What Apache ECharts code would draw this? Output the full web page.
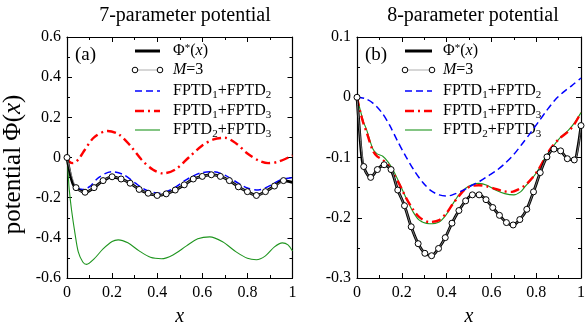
<!DOCTYPE html>
<html>
<head>
<meta charset="utf-8">
<script src="https://cdn.jsdelivr.net/npm/echarts@6/dist/echarts.min.js"></script>
<style>html,body{margin:0;padding:0;background:#fff}#c{width:588px;height:332px}</style>
</head>
<body>
<div id="c"></div>
<script>
// ---------- Data: panel (a) 7-parameter potential ----------
var aPhiX = [0,0.01,0.02,0.03,0.04,0.08,0.12,0.16,0.20,0.24,0.28,0.32,0.36,0.40,0.44,0.48,0.52,0.56,0.60,0.64,0.68,0.72,0.76,0.80,0.84,0.88,0.92,0.96,1.0];
var aPhiY = [0,-0.06,-0.11,-0.14,-0.152,-0.174,-0.150,-0.115,-0.097,-0.107,-0.128,-0.159,-0.178,-0.189,-0.181,-0.162,-0.136,-0.107,-0.094,-0.087,-0.094,-0.115,-0.146,-0.170,-0.189,-0.170,-0.142,-0.115,-0.124];
var aM3X = [0,0.04,0.08,0.12,0.16,0.20,0.24,0.28,0.32,0.36,0.40,0.44,0.48,0.52,0.56,0.60,0.64,0.68,0.72,0.76,0.80,0.84,0.88,0.92,0.96];
var aM3Y = [0,-0.150,-0.173,-0.150,-0.115,-0.096,-0.107,-0.128,-0.159,-0.178,-0.189,-0.181,-0.162,-0.136,-0.107,-0.094,-0.086,-0.094,-0.115,-0.146,-0.170,-0.189,-0.170,-0.142,-0.115];
var a12X = [0,0.01,0.02,0.04,0.07,0.10,0.14,0.197,0.25,0.30,0.35,0.41,0.47,0.53,0.59,0.648,0.70,0.76,0.80,0.848,0.90,0.95,1.0];
var a12Y = [0,-0.06,-0.11,-0.15,-0.159,-0.145,-0.100,-0.071,-0.085,-0.125,-0.162,-0.178,-0.155,-0.110,-0.078,-0.071,-0.088,-0.128,-0.152,-0.162,-0.140,-0.110,-0.100];
var a13X = [0,0.01,0.027,0.05,0.08,0.12,0.18,0.23,0.28,0.33,0.38,0.426,0.48,0.54,0.60,0.65,0.70,0.75,0.80,0.85,0.892,0.94,1.0];
var a13Y = [0,-0.02,-0.028,-0.01,0.04,0.10,0.132,0.115,0.06,-0.01,-0.06,-0.079,-0.06,0.0,0.06,0.09,0.098,0.07,0.02,-0.015,-0.028,-0.02,0.01];
var a23X = [0,0.005,0.01,0.02,0.035,0.05,0.07,0.087,0.12,0.16,0.20,0.227,0.27,0.32,0.37,0.419,0.47,0.53,0.58,0.633,0.69,0.75,0.80,0.84,0.88,0.92,0.955,0.98,1.0];
var a23Y = [0,-0.08,-0.16,-0.26,-0.375,-0.47,-0.52,-0.532,-0.505,-0.455,-0.418,-0.41,-0.425,-0.465,-0.497,-0.504,-0.485,-0.44,-0.405,-0.395,-0.42,-0.47,-0.502,-0.509,-0.49,-0.445,-0.425,-0.435,-0.466];

// ---------- Data: panel (b) 8-parameter potential ----------
var bM3X = [0,0.03,0.061,0.091,0.121,0.152,0.182,0.212,0.242,0.273,0.303,0.333,0.364,0.394,0.424,0.455,0.485,0.515,0.545,0.576,0.606,0.636,0.667,0.697,0.727,0.758,0.788,0.818,0.848,0.879,0.909,0.939,0.97,1.0];
var bM3Y = [0,-0.115,-0.133,-0.120,-0.112,-0.120,-0.154,-0.180,-0.215,-0.243,-0.259,-0.263,-0.251,-0.233,-0.209,-0.188,-0.172,-0.162,-0.162,-0.170,-0.183,-0.196,-0.208,-0.212,-0.203,-0.186,-0.157,-0.125,-0.099,-0.086,-0.089,-0.102,-0.104,-0.047];
var bPhiX = [0,0.01,0.02,0.03,0.061,0.091,0.121,0.152,0.182,0.212,0.242,0.273,0.303,0.333,0.364,0.394,0.424,0.455,0.485,0.515,0.545,0.576,0.606,0.636,0.667,0.697,0.727,0.758,0.788,0.818,0.848,0.879,0.909,0.939,0.97,0.985,1.0];
var bPhiY = [0,-0.05,-0.095,-0.116,-0.133,-0.120,-0.112,-0.121,-0.154,-0.180,-0.215,-0.243,-0.259,-0.263,-0.251,-0.233,-0.209,-0.188,-0.172,-0.162,-0.162,-0.170,-0.183,-0.196,-0.208,-0.212,-0.203,-0.186,-0.157,-0.125,-0.099,-0.086,-0.089,-0.102,-0.104,-0.085,-0.047];
var b12X = [0,0.035,0.071,0.11,0.145,0.18,0.219,0.256,0.293,0.33,0.367,0.40,0.426,0.47,0.514,0.55,0.588,0.625,0.663,0.70,0.736,0.773,0.81,0.847,0.884,0.92,0.958,1.0];
var b12Y = [0,-0.002,-0.0097,-0.025,-0.046,-0.072,-0.099,-0.122,-0.141,-0.155,-0.162,-0.164,-0.162,-0.155,-0.146,-0.139,-0.130,-0.121,-0.109,-0.095,-0.078,-0.060,-0.041,-0.022,-0.0045,0.008,0.019,0.032];
var b13X = [0,0.015,0.03,0.042,0.071,0.09,0.115,0.14,0.16,0.19,0.219,0.25,0.278,0.322,0.367,0.40,0.426,0.455,0.485,0.515,0.544,0.58,0.618,0.655,0.692,0.72,0.751,0.78,0.81,0.84,0.869,0.905,0.943,0.97,1.0];
var b13Y = [0,-0.025,-0.045,-0.057,-0.089,-0.098,-0.104,-0.113,-0.125,-0.145,-0.167,-0.186,-0.199,-0.207,-0.204,-0.192,-0.178,-0.164,-0.152,-0.147,-0.146,-0.148,-0.152,-0.156,-0.157,-0.153,-0.146,-0.135,-0.120,-0.100,-0.083,-0.068,-0.057,-0.045,-0.0255];
var b23X = [0,0.015,0.03,0.042,0.071,0.09,0.115,0.14,0.16,0.19,0.219,0.25,0.278,0.322,0.367,0.40,0.426,0.455,0.485,0.515,0.544,0.58,0.618,0.66,0.70,0.73,0.751,0.78,0.81,0.84,0.869,0.905,0.943,0.97,1.0];
var b23Y = [0,-0.022,-0.042,-0.053,-0.086,-0.094,-0.098,-0.108,-0.120,-0.143,-0.167,-0.190,-0.204,-0.210,-0.207,-0.194,-0.178,-0.162,-0.151,-0.145,-0.143,-0.146,-0.154,-0.160,-0.162,-0.157,-0.148,-0.136,-0.120,-0.100,-0.085,-0.068,-0.055,-0.043,-0.0255];

var titles = ['7-parameter potential', '8-parameter potential'];
var panelLabels = ['(a)', '(b)'];
var xTicks = {min: 0, max: 1, interval: 0.2};
var yTicksA = {min: -0.6, max: 0.6, interval: 0.2};
var yTicksB = {min: -0.3, max: 0.1, interval: 0.1};

function pairs(xs, ys) { return xs.map(function (x, i) { return [x, ys[i]]; }); }

var FONT = 'Liberation Serif';
var grids = [
  {left: 67, top: 37, width: 225.5, height: 254},
  {left: 357, top: 37, width: 225.5, height: 254}
];

function xAx(gi, pos, show) {
  return {
    type: 'value', gridIndex: gi, position: pos, min: xTicks.min, max: xTicks.max, interval: xTicks.interval,
    axisLine: {show: true, onZero: false, lineStyle: {color: '#000', width: 1.2}},
    axisTick: {show: true, inside: true, length: 5, lineStyle: {color: '#000', width: 1}},
    minorTick: {show: true, splitNumber: 2, length: 3, lineStyle: {color: '#000', width: 1}},
    splitLine: {show: false},
    axisLabel: {show: show, color: '#000', fontFamily: FONT, fontSize: 16, margin: 7},
    name: show ? 'x' : '', nameLocation: 'middle', nameGap: 29,
    nameTextStyle: {fontFamily: FONT, fontStyle: 'italic', fontSize: 20, color: '#000'}
  };
}
function yAx(gi, pos, show, t, name) {
  return {
    type: 'value', gridIndex: gi, position: pos, min: t.min, max: t.max, interval: t.interval,
    axisLine: {show: true, onZero: false, lineStyle: {color: '#000', width: 1.2}},
    axisTick: {show: true, inside: true, length: 5, lineStyle: {color: '#000', width: 1}},
    minorTick: {show: true, splitNumber: 2, length: 3, lineStyle: {color: '#000', width: 1}},
    splitLine: {show: false},
    axisLabel: {show: show, color: '#000', fontFamily: FONT, fontSize: 16, margin: 6,
      formatter: function (v) { return String(Math.round(v * 10) / 10); }},
    name: name || '', nameLocation: 'middle', nameGap: 41, nameRotate: 90,
    nameTextStyle: {fontFamily: FONT, fontSize: 25, color: '#000', padding: [0, 14, 0, 0],
      rich: {i: {fontFamily: FONT, fontSize: 25, fontStyle: 'italic', color: '#000'}}}
  };
}

var series = [];
function addPanel(gi, d) {
  var xi = gi * 2, yi = gi * 2;
  series.push({name: 'FPTD2+FPTD3', type: 'line', xAxisIndex: xi, yAxisIndex: yi, data: pairs(d.g[0], d.g[1]),
    showSymbol: false, smooth: 0.3, lineStyle: {color: '#1f951f', width: 1.1}, z: 2});
  series.push({name: 'FPTD1+FPTD3', type: 'line', xAxisIndex: xi, yAxisIndex: yi, data: pairs(d.r[0], d.r[1]),
    showSymbol: false, smooth: 0.3, lineStyle: {color: '#ff0000', width: 2.4, type: [9, 4, 2, 4]}, z: 3});
  series.push({name: 'FPTD1+FPTD2', type: 'line', xAxisIndex: xi, yAxisIndex: yi, data: pairs(d.b[0], d.b[1]),
    showSymbol: false, smooth: 0.3, lineStyle: {color: '#0000ff', width: 1.5, type: [7, 4]}, z: 4});
  series.push({name: 'Phi*', type: 'line', xAxisIndex: xi, yAxisIndex: yi, data: pairs(d.p[0], d.p[1]),
    showSymbol: false, smooth: 0.3, lineStyle: {color: '#000', width: 2.8}, z: 5});
  series.push({name: 'M=3', type: 'line', xAxisIndex: xi, yAxisIndex: yi, data: pairs(d.m[0], d.m[1]),
    showSymbol: true, symbol: 'circle', symbolSize: 6, smooth: 0.3,
    itemStyle: {color: '#fff', borderColor: '#000', borderWidth: 1},
    lineStyle: {color: '#999', width: 0.8}, z: 6});
}
addPanel(0, {g: [a23X, a23Y], r: [a13X, a13Y], b: [a12X, a12Y], p: [aPhiX, aPhiY], m: [aM3X, aM3Y]});
addPanel(1, {g: [b23X, b23Y], r: [b13X, b13Y], b: [b12X, b12Y], p: [bPhiX, bPhiY], m: [bM3X, bM3Y]});

// ---------- Legends (drawn as graphics) ----------
var rich = {
  n: {fontFamily: FONT, fontSize: 16, color: '#000'},
  i: {fontFamily: FONT, fontSize: 16, fontStyle: 'italic', color: '#000'},
  sub: {fontFamily: FONT, fontSize: 11, color: '#000', padding: [9, 0, 0, 0]},
  sup: {fontFamily: FONT, fontSize: 11, color: '#000', padding: [0, 0, 6, 0]}
};
var legendTexts = [
  '{n|Φ}{sup|*}{n|(}{i|x}{n|)}',
  '{i|M}{n|=3}',
  '{n|FPTD}{sub|1}{n|+FPTD}{sub|2}',
  '{n|FPTD}{sub|1}{n|+FPTD}{sub|3}',
  '{n|FPTD}{sub|2}{n|+FPTD}{sub|3}'
];
var legendRowsY = [51, 70, 91, 111, 130];
function legendGraphics(x1, x2, tx) {
  var els = [];
  var ys = legendRowsY;
  els.push({type: 'line', shape: {x1: x1, y1: ys[0], x2: x2, y2: ys[0]}, style: {stroke: '#000', lineWidth: 3}});
  els.push({type: 'line', shape: {x1: x1, y1: ys[1], x2: x2, y2: ys[1]}, style: {stroke: '#999', lineWidth: 0.8}});
  els.push({type: 'circle', shape: {cx: x1, cy: ys[1], r: 2.8}, style: {fill: '#fff', stroke: '#000', lineWidth: 1}});
  els.push({type: 'circle', shape: {cx: x2, cy: ys[1], r: 2.8}, style: {fill: '#fff', stroke: '#000', lineWidth: 1}});
  els.push({type: 'line', shape: {x1: x1, y1: ys[2], x2: x2, y2: ys[2]}, style: {stroke: '#0000ff', lineWidth: 1.5, lineDash: [7, 4]}});
  els.push({type: 'line', shape: {x1: x1, y1: ys[3], x2: x2, y2: ys[3]}, style: {stroke: '#ff0000', lineWidth: 2.4, lineDash: [9, 4, 2, 4]}});
  els.push({type: 'line', shape: {x1: x1, y1: ys[4], x2: x2, y2: ys[4]}, style: {stroke: '#1f951f', lineWidth: 1.1}});
  for (var k = 0; k < 5; k++) {
    els.push({type: 'text', style: {x: tx, y: ys[k], text: legendTexts[k], rich: rich, verticalAlign: 'middle', align: 'left'}});
  }
  return els;
}
var graphic = [].concat(
  legendGraphics(135, 160, 173),
  legendGraphics(405, 432, 443),
  [
    {type: 'text', style: {x: 75, y: 55, text: panelLabels[0], font: '19px "Liberation Serif"', fill: '#000', verticalAlign: 'middle'}},
    {type: 'text', style: {x: 365, y: 55, text: panelLabels[1], font: '19px "Liberation Serif"', fill: '#000', verticalAlign: 'middle'}}
  ]
);

var chart = echarts.init(document.getElementById('c'), null, {renderer: 'canvas'});
chart.setOption({
  animation: false,
  backgroundColor: '#fff',
  title: [
    {text: titles[0], left: 180, top: 1, textAlign: 'center', textStyle: {fontFamily: FONT, fontSize: 20, fontWeight: 'normal', color: '#000'}},
    {text: titles[1], left: 468, top: 1, textAlign: 'center', textStyle: {fontFamily: FONT, fontSize: 20, fontWeight: 'normal', color: '#000'}}
  ],
  grid: grids,
  xAxis: [xAx(0, 'bottom', true), xAx(0, 'top', false), xAx(1, 'bottom', true), xAx(1, 'top', false)],
  yAxis: [yAx(0, 'left', true, yTicksA, 'potential Φ({i|x})'), yAx(0, 'right', false, yTicksA),
          yAx(1, 'left', true, yTicksB), yAx(1, 'right', false, yTicksB)],
  series: series,
  graphic: graphic
});
</script>
</body>
</html>
